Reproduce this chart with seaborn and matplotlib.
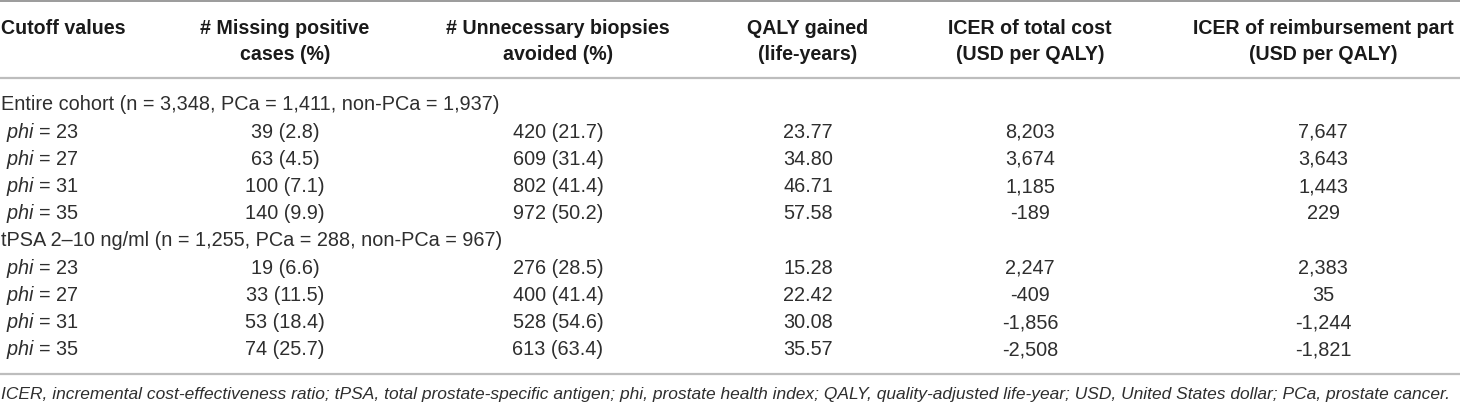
import matplotlib
matplotlib.use("Agg")
import matplotlib.pyplot as plt
import seaborn as sns
from matplotlib import font_manager

# ---- data ----
headers_line1 = ["Cutoff values", "# Missing positive", "# Unnecessary biopsies",
                 "QALY gained", "ICER of total cost", "ICER of reimbursement part"]
headers_line2 = ["", "cases (%)", "avoided (%)", "(life-years)", "(USD per QALY)", "(USD per QALY)"]

group1 = "Entire cohort (n = 3,348, PCa = 1,411, non-PCa = 1,937)"
group2 = "tPSA 2\u201310 ng/ml (n = 1,255, PCa = 288, non-PCa = 967)"

cutoffs = [23, 27, 31, 35]

g1_missing = ["39 (2.8)", "63 (4.5)", "100 (7.1)", "140 (9.9)"]
g1_avoided = ["420 (21.7)", "609 (31.4)", "802 (41.4)", "972 (50.2)"]
g1_qaly = ["23.77", "34.80", "46.71", "57.58"]
g1_icer_total = ["8,203", "3,674", "1,185", "-189"]
g1_icer_reimb = ["7,647", "3,643", "1,443", "229"]

g2_missing = ["19 (6.6)", "33 (11.5)", "53 (18.4)", "74 (25.7)"]
g2_avoided = ["276 (28.5)", "400 (41.4)", "528 (54.6)", "613 (63.4)"]
g2_qaly = ["15.28", "22.42", "30.08", "35.57"]
g2_icer_total = ["2,247", "-409", "-1,856", "-2,508"]
g2_icer_reimb = ["2,383", "35", "-1,244", "-1,821"]

footnote = ("ICER, incremental cost-effectiveness ratio; tPSA, total prostate-specific antigen; "
            "phi, prostate health index; QALY, quality-adjusted life-year; USD, United States dollar; "
            "PCa, prostate cancer.")

# ---- style ----
sns.set_style("white")
names = {f.name for f in font_manager.fontManager.ttflist}
fam = "Liberation Sans Narrow" if "Liberation Sans Narrow" in names else "Liberation Sans"
plt.rcParams["font.family"] = [fam, "DejaVu Sans"]
plt.rcParams["mathtext.fontset"] = "custom"
plt.rcParams["mathtext.rm"] = fam
plt.rcParams["mathtext.it"] = fam + ":italic"

W, H = 1460, 405
fig = plt.figure(figsize=(W / 100, H / 100), dpi=100)
ax = fig.add_axes([0, 0, 1, 1])
ax.set_xlim(0, W)
ax.set_ylim(H, 0)
ax.axis("off")

renderer = fig.canvas.get_renderer()


def fit_size(s, target_px, **kw):
    t = ax.text(0, 0, s, fontsize=10, **kw)
    w = t.get_window_extent(renderer).width
    t.remove()
    return 10 * target_px / w


body_fs = fit_size(group1, 496)
head_fs = fit_size("Cutoff values", 124, fontweight="bold")
foot_fs = fit_size(footnote, 1452, style="italic")

body_c = "#2e2e2e"
head_c = "#1a1a1a"

col_x = [None, 285, 558, 808, 1030, 1323]

# header
for i, (a, b) in enumerate(zip(headers_line1, headers_line2)):
    if i == 0:
        ax.text(1, 28, a, ha="left", va="center", fontsize=head_fs, fontweight="bold", color=head_c)
    else:
        ax.text(col_x[i], 28, a, ha="center", va="center", fontsize=head_fs, fontweight="bold", color=head_c)
        ax.text(col_x[i], 55, b, ha="center", va="center", fontsize=head_fs, fontweight="bold", color=head_c)

# lines
ax.plot([0, W], [1, 1], color="#8a8a8a", lw=1.2, solid_capstyle="butt")
ax.plot([0, W], [78, 78], color="#bdbdbd", lw=1.6, solid_capstyle="butt")
ax.plot([0, W], [374, 374], color="#bdbdbd", lw=1.6, solid_capstyle="butt")

row_y0 = 105
row_dy = 27.2

groups = [
    (group1, [g1_missing, g1_avoided, g1_qaly, g1_icer_total, g1_icer_reimb]),
    (group2, [g2_missing, g2_avoided, g2_qaly, g2_icer_total, g2_icer_reimb]),
]

r = 0
for title, cols in groups:
    y = row_y0 + r * row_dy
    ax.text(1, y, title, ha="left", va="center", fontsize=body_fs, color=body_c)
    r += 1
    for k, c in enumerate(cutoffs):
        y = row_y0 + r * row_dy
        ax.text(6, y, r"$\mathit{phi}$ = " + str(c), ha="left", va="center",
                fontsize=body_fs, color=body_c)
        for j, col in enumerate(cols):
            ax.text(col_x[j + 1], y, col[k], ha="center", va="center",
                    fontsize=body_fs, color=body_c)
        r += 1

ax.text(1, 395, footnote, ha="left", va="center", fontsize=foot_fs, style="italic", color=body_c)

fig.savefig("out.png", dpi=100, facecolor="white")
